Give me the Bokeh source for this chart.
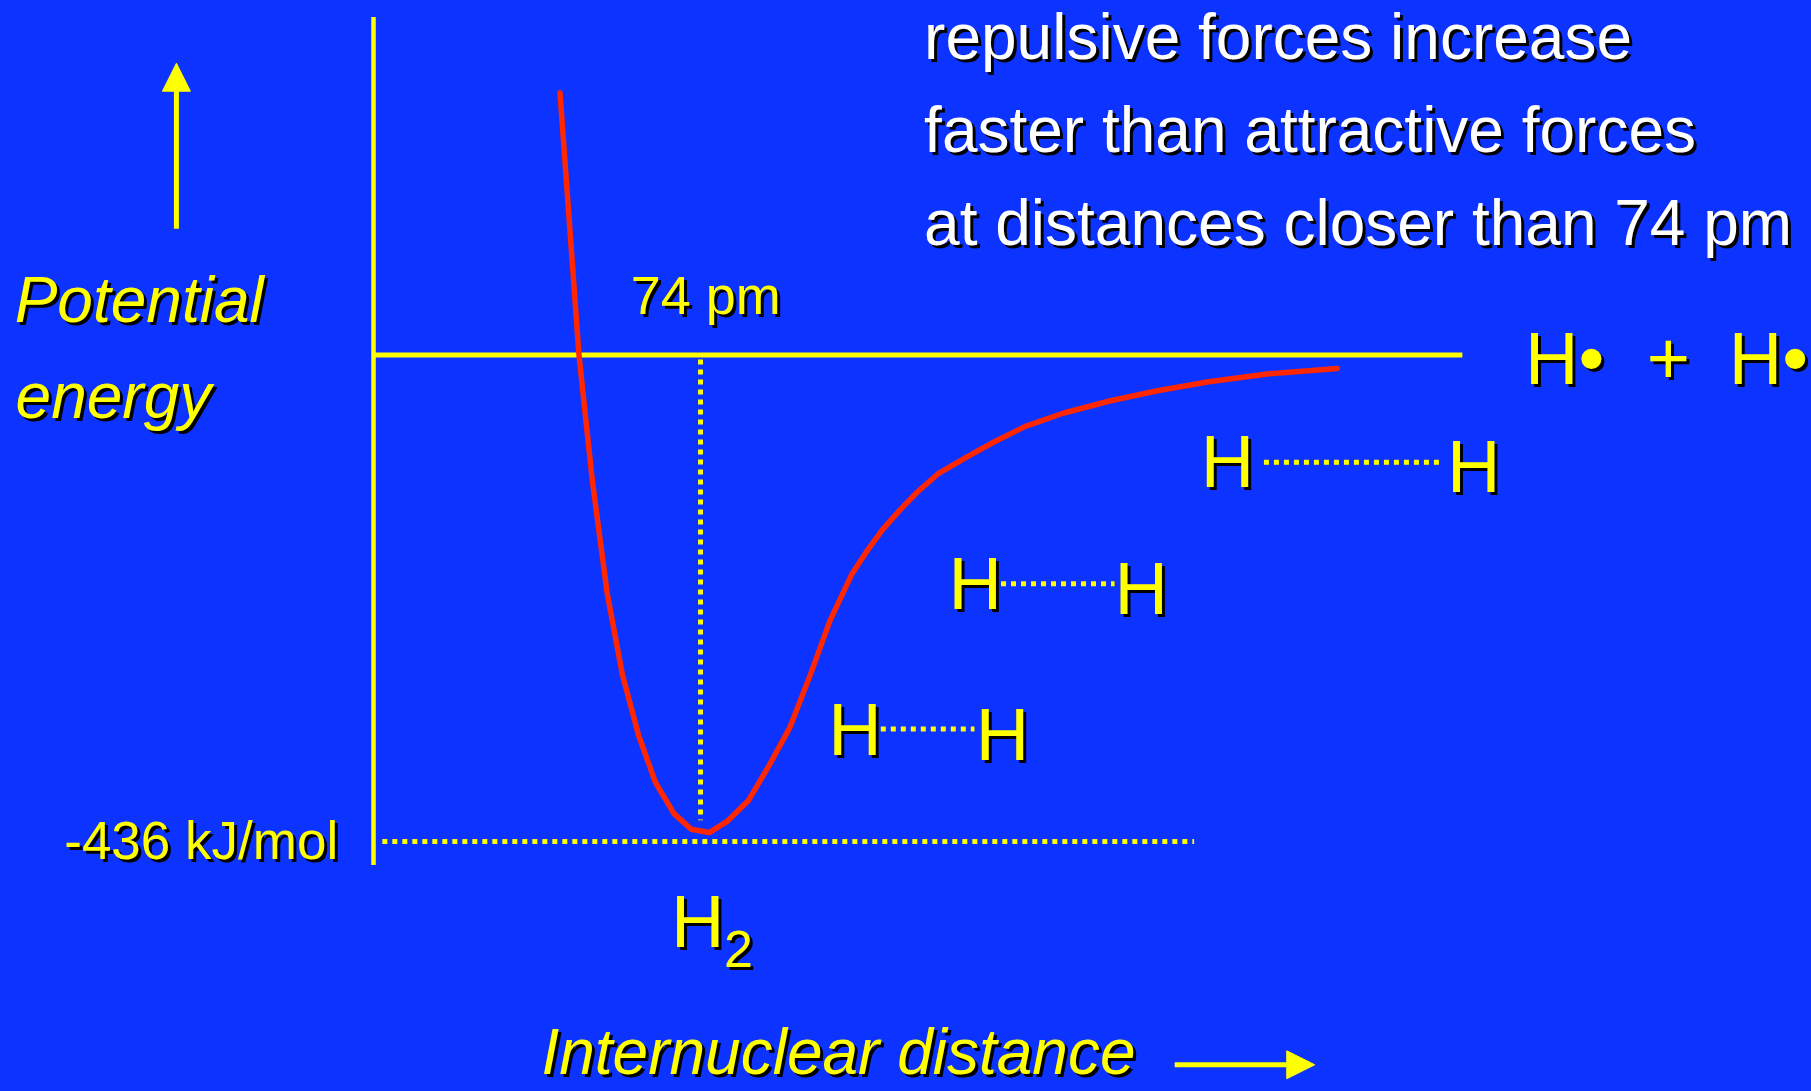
from bokeh.plotting import figure
from bokeh.models import Range1d, Arrow, NormalHead, InlineStyleSheet
from bokeh.core.properties import value
from bokeh.embed import file_html
from bokeh.resources import INLINE

# Potential energy of two hydrogen atoms versus internuclear distance
distance_pm = [42.2, 46.5, 49.5, 52.9, 56.3, 60.0, 63.8, 68.0, 71.9, 76.0,
               80.0, 84.9, 89.5, 94.2, 98.9, 103.3, 108.3, 111.6, 115.1, 119.1,
               123.0, 127.9, 134.4, 140.4, 147.5, 156.2, 166.8, 177.4, 189.0,
               202.2, 218.1]
energy_kj = [235, 0, -112, -214, -286, -341, -383, -411, -425, -428,
             -418, -399, -368, -334, -286, -238, -196, -176, -157, -139,
             -123, -106, -91, -78, -64, -52, -41, -32, -24, -17, -12]

bond_length_pm = 74
bond_energy_kj = -436
bond_length_label = "74 pm"
bond_energy_label = "-436 kJ/mol"

note_lines = ["repulsive forces increase",
              "faster than attractive forces",
              "at distances closer than 74 pm"]

BLUE = "#0C33FF"
YELLOW = "#FFFF00"
RED = "#FF2600"
WHITE = "#FFFFFF"
FONT = value("Liberation Sans")

p = figure(width=1811, height=1091,
           x_range=Range1d(-84.41, 325.41), y_range=Range1d(-660.05, 317.7),
           output_backend="svg", toolbar_location=None,
           x_axis_location=None, y_axis_location=None, min_border=0,
           background_fill_color=BLUE, border_fill_color=BLUE,
           outline_line_color=None)
p.grid.visible = False
p.stylesheets = [InlineStyleSheet(css=":host { background-color: %s; }" % BLUE)]


def label(xs, ys, texts, size, color=YELLOW, style="normal", align="left",
          shadow=3):
    px = int(size.replace("px", ""))
    lift = -round(0.36 * px)
    common = dict(text_font=FONT, text_font_size=size,
                  text_font_style=style, text_align=align,
                  text_baseline="alphabetic", text_line_height=1.0)
    p.text(xs, ys, text=texts, text_color="black",
           x_offset=shadow, y_offset=lift + shadow, **common)
    p.text(xs, ys, text=texts, text_color=color, y_offset=lift, **common)


# energy axis and zero-energy level (separated atoms)
p.segment(x0=[0], y0=[-457], x1=[0], y1=[303], line_color=YELLOW,
          line_width=4.5, line_cap="butt")
p.segment(x0=[0], y0=[0], x1=[246.4], y1=[0], line_color=YELLOW,
          line_width=5, line_cap="butt")

# guides at the bond length and the bond energy
p.segment(x0=[2.0], y0=[bond_energy_kj], x1=[185.7], y1=[bond_energy_kj],
          line_color=YELLOW, line_width=5, line_dash="5 5", line_cap="butt")
p.segment(x0=[bond_length_pm], y0=[-4], x1=[bond_length_pm], y1=[-417],
          line_color=YELLOW, line_width=5, line_dash="5 5", line_cap="butt")

# the potential energy curve
p.line(distance_pm, energy_kj, line_color=RED, line_width=5.5,
       line_join="round", line_cap="round")

# direction arrows for the two quantities
head_kw = dict(size=28, fill_color=YELLOW, line_color=YELLOW, line_width=1)
p.add_layout(Arrow(end=NormalHead(**head_kw), x_start=-44.6, y_start=113.1,
                   x_end=-44.6, y_end=261.5, line_color=YELLOW, line_width=5))
p.add_layout(Arrow(end=NormalHead(**head_kw), x_start=181.3, y_start=-636.1,
                   x_end=213.0, y_end=-636.1, line_color=YELLOW, line_width=5))

# axis titles
label([-81.2, -81.0], [28.5, -57.2], ["Potential", "energy"], "64px",
      style="italic")
label([38.0], [-645.7], ["Internuclear distance"], "64px", style="italic")

# value labels
label([58.2], [36.9], [bond_length_label], "54px")
label([-8.0], [-452.4], [bond_energy_label], "53px", align="right")

# H2 at the bottom of the well
label([67.3], [-532.2], ["H"], "74px")
label([79.3], [-549.2], ["2"], "52px")

# separated atoms
label([260.6, 288.1, 306.7], [-27.3, -27.3, -27.3], ["H\u2022", "+", "H\u2022"],
      "74px")

# H...H pairs at shrinking separations
pair_left = [187.2, 130.1, 102.9]
pair_right = [242.9, 167.7, 136.3]
pair_left_base = [-119.4, -229.0, -359.6]
pair_right_base = [-124.4, -233.8, -364.0]
dots_x0 = [201.5, 142.0, 114.8]
dots_x1 = [242.0, 167.7, 136.0]
dots_y = [-96.1, -205.0, -335.2]
p.segment(x0=dots_x0, y0=dots_y, x1=dots_x1, y1=dots_y, line_color=YELLOW,
          line_width=5, line_dash="5 5", line_cap="butt")
label(pair_left + pair_right, pair_left_base + pair_right_base,
      ["H"] * 6, "74px")

# explanatory note
label([124.6] * 3, [264.8, 181.2, 97.5], note_lines, "64px", color=WHITE)

open("out.html", "w").write(file_html(p, INLINE))
